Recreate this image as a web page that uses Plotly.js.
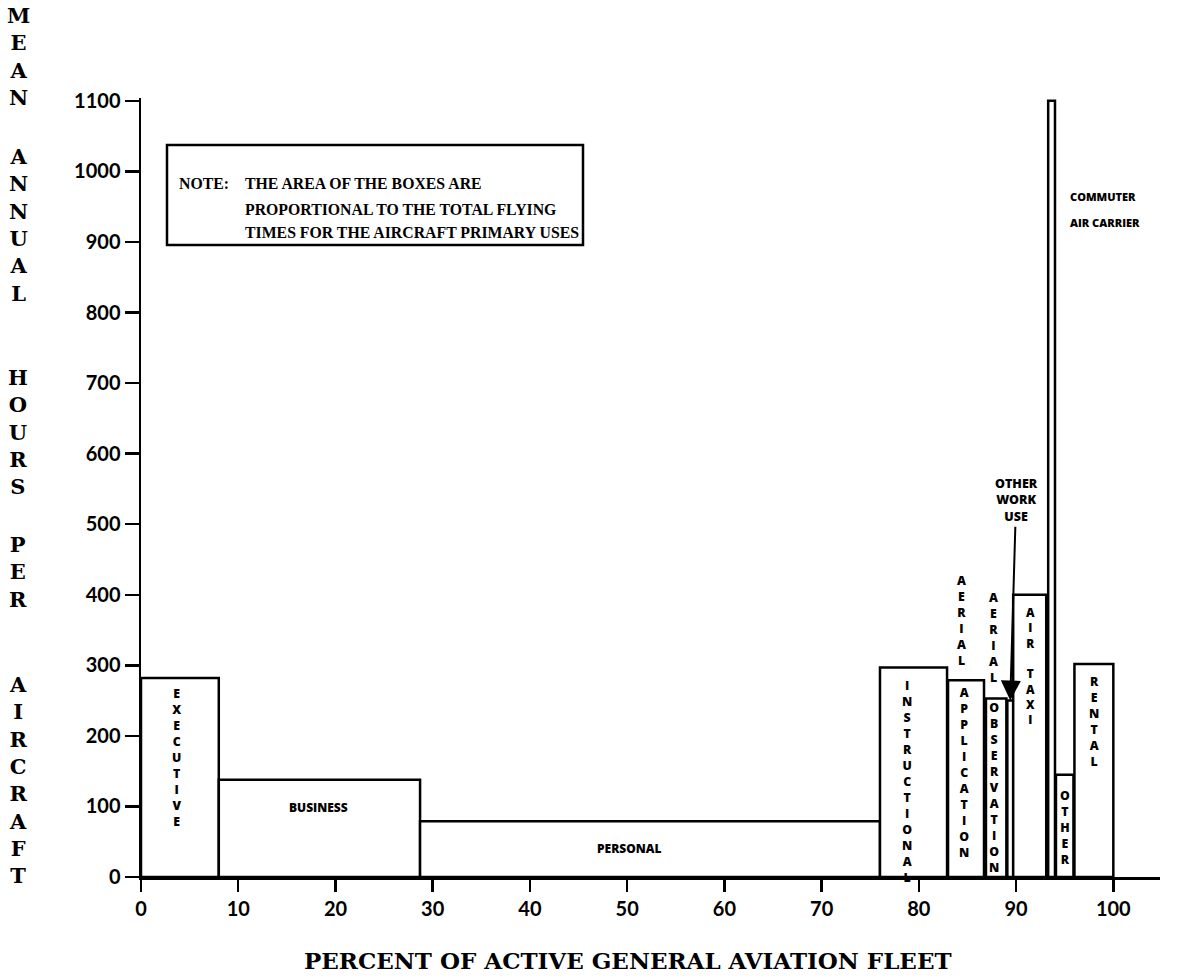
<!DOCTYPE html>
<html>
<head>
<meta charset="utf-8">
<script src="https://cdn.plot.ly/plotly-3.0.1.min.js"></script>
<style>html,body{margin:0;padding:0;background:#fff;}#chart{width:1185px;height:979px;}</style>
</head>
<body>
<div id="chart"></div>
<script>
// ---- data ----
const categories = ["EXECUTIVE","BUSINESS","PERSONAL","INSTRUCTIONAL","AERIAL APPLICATION","AERIAL OBSERVATION","OTHER WORK USE","AIR TAXI","COMMUTER AIR CARRIER","OTHER","RENTAL"];
const fleetStart = [0.0, 8.0, 28.7, 76.0, 83.0, 86.9, 89.1, 89.7, 93.3, 94.1, 96.0];
const fleetEnd   = [8.0, 28.7, 76.0, 82.9, 86.7, 89.0, 89.7, 93.1, 94.0, 95.9, 100.0];
const meanHours  = [282, 138, 79, 297, 279, 253, 250, 400, 1100, 145, 302];
const xTickVals = [0,10,20,30,40,50,60,70,80,90,100];
const yTickVals = [0,100,200,300,400,500,600,700,800,900,1000,1100];
const yTickText = ["0","100","200","300","400","500","600","700","800","900","1000","1100"];

const centers = fleetStart.map((s,i)=>(s+fleetEnd[i])/2);
const widths = fleetStart.map((s,i)=>fleetEnd[i]-s);

const stack = s => s.split("").join("<br>");

// plot frame in pixels
const PL = 141, PR = 1160, PT = 98, PB = 877;
const px2p = px => (px-PL)/(PR-PL);
const py2p = py => (PB-py)/(PB-PT);

const barFont = {family:"Open Sans, DejaVu Sans, sans-serif", size:12.3, color:"#000", weight:800};
const smallFont = {family:"Open Sans, DejaVu Sans, sans-serif", size:12, color:"#000", weight:800};
const serifB = {family:"DejaVu Serif, serif", color:"#000", weight:"bold"};
const noteFont = {family:"Liberation Serif, serif", size:15.8, color:"#000", weight:"bold"};

const trace = {
  type:"bar", x:centers, y:meanHours, width:widths, text:categories,
  marker:{color:"#fff", line:{color:"#000", width:2.5}},
  hoverinfo:"text+y", cliponaxis:false, textposition:"none"
};

function lab(text, x, y, extra){ return Object.assign({text:text, x:x, y:y, xref:"x", yref:"y", showarrow:false, font:barFont, xanchor:"center", yanchor:"middle"}, extra||{}); }
function pap(text, px, py, font, extra){ return Object.assign({text:text, xref:"paper", yref:"paper", x:px2p(px), y:py2p(py), showarrow:false, font:font, xanchor:"left", yanchor:"middle"}, extra||{}); }

const annotations = [
  lab(stack("EXECUTIVE"), 3.7, 170),
  lab("BUSINESS", 18.3, 98, {font:smallFont}),
  lab("PERSONAL", 50.2, 40, {font:smallFont}),
  lab(stack("INSTRUCTIONAL"), 78.8, 135),
  lab(stack("AERIAL"), 84.4, 363),
  lab(stack("APPLICATION"), 84.6, 148),
  lab(stack("AERIAL"), 87.7, 340),
  lab(stack("OBSERVATION"), 87.7, 127),
  lab(stack("AIR TAXI"), 91.5, 300, {font:Object.assign({}, smallFont, {size:11.8})}),
  lab(stack("OTHER"), 95.0, 70),
  lab(stack("RENTAL"), 98.0, 220),
  pap("COMMUTER", 1068, 197, Object.assign({}, smallFont, {size:11})),
  pap("AIR CARRIER", 1068, 222, Object.assign({}, smallFont, {size:11})),
  {text:"OTHER<br>WORK<br>USE", x:89.4, y:250, ax:90.0, ay:534, axref:"x", ayref:"y", xref:"x", yref:"y",
   showarrow:true, arrowhead:2, arrowsize:2, arrowwidth:2, arrowcolor:"#000", standoff:0,
   font:Object.assign({}, smallFont, {size:12.5})},
  // note box text
  pap("NOTE:", 177, 184, noteFont),
  pap("THE AREA OF THE BOXES ARE", 243, 184, noteFont),
  pap("PROPORTIONAL TO THE TOTAL FLYING", 243, 209, noteFont),
  pap("TIMES FOR THE AIRCRAFT PRIMARY USES", 243, 233, noteFont),
  // x axis title
  pap("PERCENT OF ACTIVE GENERAL AVIATION FLEET", 628, 960, Object.assign({}, serifB, {size:23}), {xanchor:"center"}),
];
// y axis title, stacked letters word by word
const yWords = [["MEAN",56],["ANNUAL",225],["HOURS",432],["PER",572],["AIRCRAFT",780]];
yWords.forEach(w => annotations.push(pap(stack(w[0]), 18, w[1], Object.assign({}, serifB, {size:21}), {xanchor:"center"})));

const layout = {
  width:1185, height:979, autosize:false,
  margin:{l:PL, r:1185-PR, t:PT, b:979-PB, pad:0},
  paper_bgcolor:"#fff", plot_bgcolor:"#fff",
  showlegend:false, bargap:0,
  font:{family:"Lato, Open Sans, sans-serif", color:"#000"},
  xaxis:{range:[0,104.8], tickvals:xTickVals, ticks:"outside", ticklen:12, tickwidth:2.5, tickcolor:"#000",
         showline:true, linecolor:"#000", linewidth:2.5, showgrid:false, zeroline:false,
         tickfont:{family:"Lato, Open Sans, sans-serif", size:20, color:"#000", weight:"bold"}},
  yaxis:{range:[0,1104], tickvals:yTickVals, ticktext:yTickText, ticks:"outside", ticklen:14, tickwidth:2.5, tickcolor:"#000",
         showline:true, linecolor:"#000", linewidth:2.5, showgrid:false, zeroline:false,
         tickfont:{family:"Lato, Open Sans, sans-serif", size:20, color:"#000", weight:"bold"}},
  shapes:[{type:"rect", xref:"paper", yref:"paper", x0:px2p(167), x1:px2p(583), y0:py2p(245), y1:py2p(145),
           line:{color:"#000", width:2.5}, fillcolor:"rgba(0,0,0,0)"}],
  annotations:annotations
};

Plotly.newPlot("chart", [trace], layout, {staticPlot:true, displayModeBar:false});
</script>
</body>
</html>
